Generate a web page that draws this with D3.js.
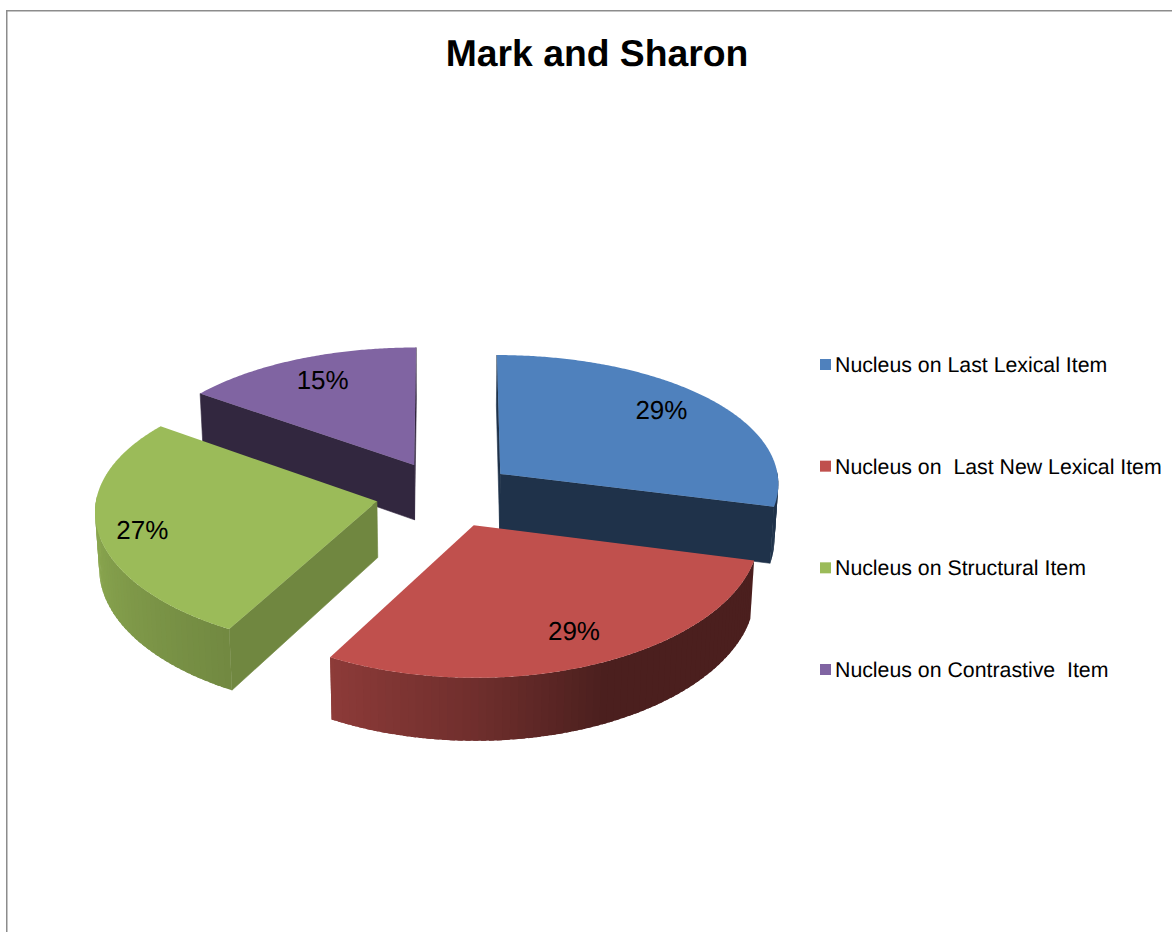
<!DOCTYPE html>
<html>
<head>
<meta charset="utf-8">
<script src="https://cdn.jsdelivr.net/npm/d3@7/dist/d3.min.js"></script>
<style>
html, body { margin: 0; padding: 0; background: #fff; overflow: hidden; }
svg { display: block; }
text { font-family: "Liberation Sans", Arial, sans-serif; fill: #000; text-rendering: geometricPrecision; }
</style>
</head>
<body>
<script>
// Chart content
const chartTitle = "Mark and Sharon";
const categories = [
  "Nucleus on Last Lexical Item",
  "Nucleus on\u00a0 Last New Lexical Item",
  "Nucleus on Structural Item",
  "Nucleus on Contrastive\u00a0 Item"
];
const shares = [29, 29, 27, 15];
const sliceColors = ["#4f81bd", "#c0504d", "#9bbb59", "#8064a2"];

// Placement of each percentage label: fraction of the radius, and turn (degrees) from the slice's middle
const labelRadius = [0.80, 0.787, 0.847, 0.785];
const labelTurn = [-2.8, -1.5, -1.9, 0.4];

const width = 1172, height = 932;
const svg = d3.select("body").append("svg").attr("width", width).attr("height", height);

// Outer frame (only its top and left edges fall inside the page)
svg.append("path")
  .attr("d", "M6.75,932V10.75H1172")
  .attr("fill", "none").attr("stroke", "#8c8c8c").attr("stroke-width", 1.5);

svg.append("text")
  .attr("x", 597).attr("y", 65.5)
  .attr("text-anchor", "middle")
  .attr("font-size", 37.3).attr("font-weight", "bold")
  .text(chartTitle);

// Tilted-disc projection with mild perspective
const cx = 445.5, cy = 494, radius = 280, tilt = 133, thickness = 56, explode = 0.25;
const kx = 0.065, ky = 0.09, kz = 0.012;
function project(X, Y, Z) {
  const sx = 1 / (1 - kx * Y + kz * Z);
  const sy = 1 / (1 - ky * Y);
  return [cx + X * radius * sx, cy + Y * tilt * sy + Z * thickness * sy];
}

const pie = d3.pie().sort(null).value(d => d);
const arcs = pie(shares).map((a, i) => {
  const mid = (a.startAngle + a.endAngle) / 2;
  return {
    index: i,
    start: a.startAngle,
    end: a.endAngle,
    mid,
    ox: explode * Math.sin(mid),
    oy: -explode * Math.cos(mid),
    color: d3.rgb(sliceColors[i])
  };
});

const rim = (s, angle, r = 1) => [s.ox + r * Math.sin(angle), s.oy - r * Math.cos(angle)];
const line = d3.line();
const deg = Math.PI / 180;

// Brightness of the outer wall as it turns around the disc
const wallShade = d3.scaleLinear()
  .domain([0, 104, 155, 180, 208, 262, 360])
  .range([0.39, 0.39, 0.39, 0.58, 0.73, 0.89, 0.89])
  .clamp(true);
const shaded = (c, f) => d3.rgb(c.r * f, c.g * f, c.b * f).formatHex();

// Back-to-front drawing order so nearer slices overlap farther ones
const drawOrder = [3, 0, 2, 1];
const chart = svg.append("g");

function cutWall(g, s, angle, f) {
  const [x, y] = rim(s, angle);
  const pts = [project(s.ox, s.oy, 0), project(x, y, 0), project(x, y, 1), project(s.ox, s.oy, 1)];
  g.append("path").attr("d", line(pts) + "Z").attr("fill", shaded(s.color, f))
    .attr("stroke", shaded(s.color, f)).attr("stroke-width", 0.6);
}

drawOrder.forEach(i => {
  const s = arcs[i];
  const g = chart.append("g");

  // Flat faces along the cut edges that turn towards the viewer
  if (i === 0) { cutWall(g, s, s.start, 0.39); cutWall(g, s, s.end, 0.39); }
  if (i === 2) cutWall(g, s, s.start, 0.72);
  if (i === 3) { cutWall(g, s, s.start, 0.39); cutWall(g, s, s.end, 0.39); }

  // Outer wall built from overlapping shaded strips on the camera-facing side
  const step = 1.5 * deg, overlap = 1 * deg;
  const from = Math.max(s.start, 88 * deg), to = Math.min(s.end, 272 * deg);
  for (let a = from; a < to; a += step) {
    const b = Math.min(a + step + overlap, to);
    const [x0, y0] = rim(s, a), [x1, y1] = rim(s, b);
    const f = shaded(s.color, wallShade((a + step / 2) / deg));
    g.append("path")
      .attr("d", line([project(x0, y0, 0), project(x1, y1, 0), project(x1, y1, 1), project(x0, y0, 1)]) + "Z")
      .attr("fill", f);
  }

  // Top face
  const top = [project(s.ox, s.oy, 0)];
  for (let a = s.start; a <= s.end + 1e-6; a += 0.5 * deg) {
    const [x, y] = rim(s, a);
    top.push(project(x, y, 0));
  }
  const [xe, ye] = rim(s, s.end);
  top.push(project(xe, ye, 0));
  g.append("path").attr("d", line(top) + "Z").attr("fill", s.color.formatHex());
});

// Percentage labels
arcs.forEach(s => {
  const [x, y] = rim(s, s.mid + labelTurn[s.index] * deg, labelRadius[s.index]);
  const [px, py] = project(x, y, 0);
  svg.append("text")
    .attr("x", px).attr("y", py)
    .attr("text-anchor", "middle").attr("dominant-baseline", "central")
    .attr("font-size", 26)
    .text(d3.format(".0f")(shares[s.index]) + "%");
});

// Legend
const legendY = d3.scalePoint().domain(d3.range(categories.length)).range([364.5, 669.5]);
const legend = svg.append("g").selectAll("g").data(categories).join("g")
  .attr("transform", (d, i) => `translate(820,${legendY(i)})`);
legend.append("rect")
  .attr("x", 0).attr("y", -5.5).attr("width", 11).attr("height", 11)
  .attr("fill", (d, i) => sliceColors[i]);
legend.append("text")
  .attr("x", 15).attr("y", 7.5)
  .attr("font-size", 21.3)
  .text(d => d);
</script>
</body>
</html>
